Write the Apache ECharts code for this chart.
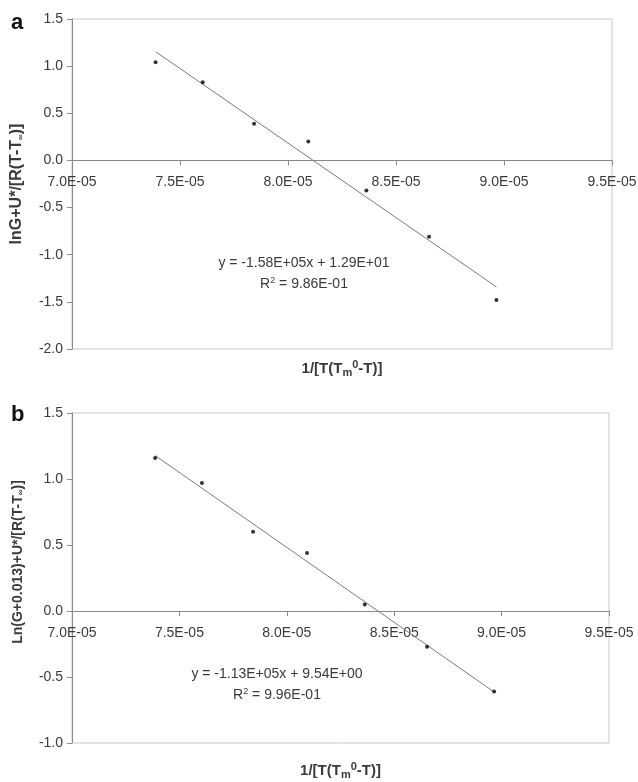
<!DOCTYPE html>
<html><head><meta charset="utf-8">
<script src="https://cdn.jsdelivr.net/npm/echarts@6/dist/echarts.min.js"></script>
<style>html,body{margin:0;padding:0;background:#fff}#c{width:638px;height:782px}</style>
</head><body><div id="c"></div>
<script>
// ---- data ----
const xValues = [7.387e-5, 7.605e-5, 7.843e-5, 8.094e-5, 8.363e-5, 8.653e-5, 8.965e-5];
const yPanelA = [1.04, 0.83, 0.39, 0.20, -0.32, -0.81, -1.48];
const yPanelB = [1.16, 0.97, 0.60, 0.44, 0.05, -0.27, -0.61];
const eqPanelA = ['y = -1.58E+05x + 1.29E+01', '9.86E-01'];
const eqPanelB = ['y = -1.13E+05x + 9.54E+00', '9.96E-01'];
const xRange = [7.0e-5, 9.5e-5, 0.5e-5];
const yRangeA = [-2.0, 1.5, 0.5];
const yRangeB = [-1.0, 1.5, 0.5];

function fit(xs, ys) {
  const n = xs.length;
  const mx = xs.reduce((a, b) => a + b, 0) / n;
  const my = ys.reduce((a, b) => a + b, 0) / n;
  let sxy = 0, sxx = 0;
  for (let i = 0; i < n; i++) { sxy += (xs[i] - mx) * (ys[i] - my); sxx += (xs[i] - mx) ** 2; }
  const m = sxy / sxx, b = my - m * mx;
  const x0 = Math.min(...xs), x1 = Math.max(...xs);
  return [[x0, m * x0 + b], [x1, m * x1 + b]];
}
const FONT = 'Liberation Sans, Arial, sans-serif';
const TXT = '#3a3a3a';
const xFmt = v => (v / 1e-5).toFixed(1) + 'E-05';
const GH = 330;
// distance (px) from the grid bottom up to the zero line
const zeroOffset = rng => GH * (0 - rng[0]) / (rng[1] - rng[0]);

function xAxis(gi, rng, nameGap) {
  return {
    type: 'value', gridIndex: gi, min: xRange[0], max: xRange[1], interval: xRange[2],
    position: 'bottom', offset: -zeroOffset(rng),
    axisLine: { onZero: false, lineStyle: { color: '#8a8a8a', width: 1 } },
    axisTick: { show: true, length: 5, lineStyle: { color: '#8a8a8a' } },
    axisLabel: { formatter: xFmt, color: TXT, fontSize: 14, fontFamily: FONT, margin: 15, showMaxLabel: true, showMinLabel: true, hideOverlap: false },
    splitLine: { show: false },
    name: '1/[T(T{sub|m}{sup|0}-T)]', nameLocation: 'middle', nameGap: nameGap,
    nameTextStyle: { color: TXT, fontSize: 15, fontWeight: 'bold', fontFamily: FONT,
      rich: { sub: { fontSize: 11, fontWeight: 'bold', fontFamily: FONT, color: TXT, verticalAlign: 'bottom', padding: [6, 0, 0, 0] },
              sup: { fontSize: 11, fontWeight: 'bold', fontFamily: FONT, color: TXT, verticalAlign: 'top', padding: [0, 0, 8, 0] } } }
  };
}
function yAxis(gi, rng, name, fontSize, pad) {
  return {
    type: 'value', gridIndex: gi, min: rng[0], max: rng[1], interval: rng[2],
    axisLine: { show: true, onZero: false, lineStyle: { color: '#8a8a8a', width: 1 } },
    axisTick: { show: true, length: 5, lineStyle: { color: '#8a8a8a' } },
    axisLabel: { formatter: v => v.toFixed(1), color: TXT, fontSize: 14, fontFamily: FONT, margin: 9 },
    splitLine: { show: false },
    name: name, nameLocation: 'middle', nameGap: 47, nameRotate: 90,
    nameTextStyle: { color: TXT, fontSize: fontSize, fontWeight: 'bold', fontFamily: FONT, padding: pad,
      rich: { sub: { fontSize: 8, fontWeight: 'bold', fontFamily: FONT, color: TXT, verticalAlign: 'bottom', padding: [4, 0, 0, 0] } } }
  };
}
function scatter(gi, ys) {
  return { type: 'scatter', xAxisIndex: gi, yAxisIndex: gi, symbol: 'circle', symbolSize: 4,
    itemStyle: { color: '#000' }, data: xValues.map((x, i) => [x, ys[i]]), z: 5 };
}
function trend(gi, ys) {
  return { type: 'line', xAxisIndex: gi, yAxisIndex: gi, showSymbol: false, symbol: 'none',
    lineStyle: { color: '#7a7a7a', width: 1 }, data: fit(xValues, ys), z: 4, silent: true };
}
function eq(lines, cx, y) {
  const rich = { sup: { fontSize: 9, fontFamily: FONT, fill: TXT, verticalAlign: 'top', padding: [0, 0, 7, 0] }, n: { fontSize: 14, fontFamily: FONT, fill: TXT } };
  return [
    { type: 'text', x: cx, y: y, style: { text: lines[0], font: '14px ' + FONT, fill: TXT, align: 'center', verticalAlign: 'middle' } },
    { type: 'text', x: cx, y: y + 21, style: { text: '{n|R}{sup|2}{n| = ' + lines[1] + '}', font: '14px ' + FONT, fill: TXT, align: 'center', verticalAlign: 'middle', rich: rich } }
  ];
}

const chart = echarts.init(document.getElementById('c'), null, { renderer: 'canvas' });
chart.setOption({
  animation: false,
  backgroundColor: '#fff',
  grid: [
    { left: 72, top: 19, width: 540, height: GH, show: true, borderColor: '#c8c8c8', borderWidth: 1, backgroundColor: 'transparent', containLabel: false, outerBoundsMode: 'none' },
    { left: 72, top: 413, width: 537, height: GH, show: true, borderColor: '#c8c8c8', borderWidth: 1, backgroundColor: 'transparent', containLabel: false, outerBoundsMode: 'none' }
  ],
  xAxis: [xAxis(0, yRangeA, 199), xAxis(1, yRangeB, 150)],
  yAxis: [
    yAxis(0, yRangeA, 'lnG+U*/[R(T-T{sub|∞})]', 16, 0),
    yAxis(1, yRangeB, 'Ln(G+0.013)+U*/[R(T-T{sub|∞})]', 14, [0, 0, 0, 32])
  ],
  series: [trend(0, yPanelA), scatter(0, yPanelA), trend(1, yPanelB), scatter(1, yPanelB)],
  graphic: [
    { type: 'text', x: 11, y: 12, style: { text: 'a', font: 'bold 22px ' + FONT, fill: '#111' } },
    { type: 'text', x: 11, y: 404, style: { text: 'b', font: 'bold 22px ' + FONT, fill: '#111' } },
    ...eq(eqPanelA, 304, 263),
    ...eq(eqPanelB, 277, 674)
  ]
});
</script></body></html>
